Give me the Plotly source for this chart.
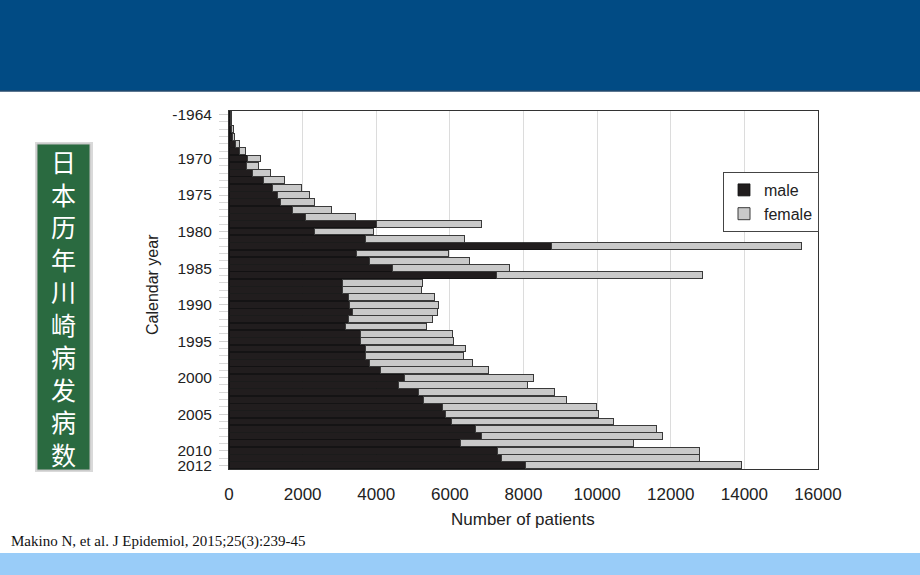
import plotly.graph_objects as go

years = ["-1964"] + [str(y) for y in range(1965, 2013)]
male = [50, 50, 70, 90, 165, 272, 498, 480, 643, 933,
        1168, 1322, 1395, 1712, 2074, 4002, 2310, 3695, 8767, 3459,
        3804, 4429, 7254, 3070, 3070, 3242, 3279, 3351, 3242, 3152,
        3578, 3560, 3695, 3695, 3804, 4112, 4755, 4601, 5153, 5280,
        5787, 5877, 6032, 6702, 6847, 6276, 7290, 7408, 8042]
female = [30, 20, 40, 55, 115, 180, 362, 317, 480, 580,
          797, 870, 924, 1068, 1368, 2853, 1611, 2699, 6782, 2500,
          2726, 3188, 5616, 2183, 2155, 2337, 2409, 2310, 2283, 2219,
          2490, 2536, 2736, 2672, 2807, 2944, 3513, 3505, 3696, 3886,
          4203, 4158, 4410, 4908, 4926, 4709, 5488, 5370, 5887]
tick_years = ["-1964", "1970", "1975", "1980", "1985", "1990", "1995",
              "2000", "2005", "2010", "2012"]
x_ticks = [0, 2000, 4000, 6000, 8000, 10000, 12000, 14000, 16000]
side_chars = list("日本历年川崎病发病数")
citation = "Makino N, et al. J Epidemiol, 2015;25(3):239-45"

W, H = 920, 575
L, R, T, B = 229, 818, 111, 469


def px(x):
    return (x - L) / (R - L)


def py(y):
    return (B - y) / (B - T)


idx = list(range(len(years)))
tickvals = [years.index(t) for t in tick_years]

fig = go.Figure()
fig.add_trace(go.Bar(
    y=idx, x=male, orientation="h", name="male",
    marker=dict(color="#211d1e", line=dict(color="#111111", width=0.8)),
))
fig.add_trace(go.Bar(
    y=idx, x=female, orientation="h", name="female",
    marker=dict(color="#c9c9c9", line=dict(color="#3a3a3a", width=1)),
))

shapes = [
    # top banner
    dict(type="rect", xref="paper", yref="paper", x0=px(0), x1=px(W),
         y0=py(91), y1=py(0), fillcolor="#014b84", line=dict(width=0),
         layer="below"),
    dict(type="line", xref="paper", yref="paper", x0=px(0), x1=px(W),
         y0=py(91), y1=py(91), line=dict(color="#24496b", width=1.5)),
    # bottom band
    dict(type="rect", xref="paper", yref="paper", x0=px(0), x1=px(W),
         y0=py(575), y1=py(553), fillcolor="#99ccf8", line=dict(width=0),
         layer="below"),
    # green side box shadow
    dict(type="rect", xref="paper", yref="paper", x0=px(35), x1=px(93),
         y0=py(472), y1=py(142), fillcolor="#d9d9d9", line=dict(width=0),
         layer="below"),
    dict(type="rect", xref="paper", yref="paper", x0=px(37), x1=px(90),
         y0=py(470), y1=py(144), fillcolor="#2a6a40",
         line=dict(color="#bfbfbf", width=1), layer="below"),
]

annotations = [
    dict(x=px(63.5), y=py(307), xref="paper", yref="paper",
         text="<br>".join(side_chars), showarrow=False,
         xanchor="center", yanchor="middle", align="center",
         font=dict(family="Noto Sans CJK SC", size=25, color="white")),
    dict(x=px(9), y=py(541), xref="paper", yref="paper", text=citation,
         showarrow=False, xanchor="left", yanchor="middle",
         font=dict(family="Liberation Serif, Times New Roman, serif",
                   size=15, color="#111111")),
    dict(x=px(523), y=py(519), xref="paper", yref="paper",
         text="Number of patients", showarrow=False, xanchor="center",
         yanchor="middle",
         font=dict(family="Liberation Sans, Arial", size=17, color="#222222")),
    dict(x=px(152), y=py(285), xref="paper", yref="paper",
         text="Calendar year", showarrow=False, textangle=-90,
         xanchor="center", yanchor="middle",
         font=dict(family="Liberation Sans, Arial", size=16, color="#222222")),
]

fig.update_layout(
    width=W, height=H,
    margin=dict(l=L, r=W - R, t=T, b=H - B),
    paper_bgcolor="white", plot_bgcolor="white",
    barmode="stack", bargap=0.06,
    font=dict(family="Liberation Sans, Arial", size=17, color="#222222"),
    shapes=shapes, annotations=annotations,
    legend=dict(
        x=px(723), y=py(172), xanchor="left", yanchor="top",
        bgcolor="white", bordercolor="#444444", borderwidth=1,
        font=dict(family="Liberation Sans, Arial", size=16, color="#222222"),
        itemwidth=30, tracegroupgap=0, traceorder="normal",
    ),
    xaxis=dict(
        range=[0, 16000], tickvals=x_ticks,
        ticktext=[str(v) for v in x_ticks], showgrid=True,
        gridcolor="#dcdcdc", gridwidth=1, zeroline=False,
        showline=True, linecolor="#333333", linewidth=1, mirror=True,
        ticks="", ticklabelstandoff=10,
        tickfont=dict(size=17, color="#222222"),
    ),
    yaxis=dict(
        range=[len(years) - 0.5, -0.5], tickvals=tickvals,
        ticktext=tick_years, showgrid=False, zeroline=False,
        showline=True, linecolor="#333333", linewidth=1, mirror=True,
        ticks="outside", ticklen=9, tickcolor="#d0d0d0",
        minor=dict(ticks="outside", dtick=1, tick0=0, ticklen=9,
                   tickcolor="#d8d8d8", showgrid=False),
        ticklabelstandoff=4,
        tickfont=dict(size=15.5, color="#222222"),
    ),
)

fig.write_html("out.html",
               config={"displayModeBar": False},
               post_script="document.body.style.margin='0';"
                           "document.body.style.padding='0';")
